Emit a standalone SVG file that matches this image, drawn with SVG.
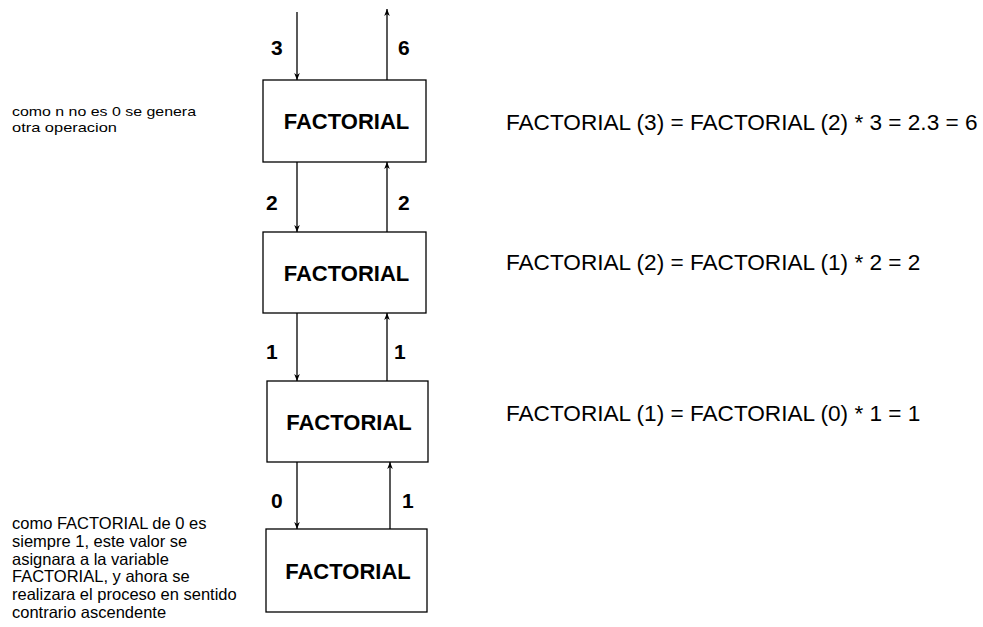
<svg xmlns="http://www.w3.org/2000/svg" width="983" height="627" viewBox="0 0 983 627">
  <style>
    .box { fill: #ffffff; stroke: #000000; stroke-width: 1.3; }
    .title { font-family: "Liberation Sans", Arial, sans-serif; font-weight: bold; font-size: 22px; text-anchor: middle; fill: #000; }
    .num { font-family: "Liberation Sans", Arial, sans-serif; font-weight: bold; font-size: 21px; fill: #000; }
    .eq { font-family: "Liberation Sans", Arial, sans-serif; font-size: 22.6px; fill: #000; }
    .note { font-family: "Liberation Sans", Arial, sans-serif; font-size: 16.5px; fill: #000; }
    .note-small { font-family: "Liberation Sans", Arial, sans-serif; font-size: 13.5px; fill: #000; }
    .wire { stroke: #000; stroke-width: 1.3; fill: none; marker-end: url(#head); }
  </style>
  <defs>
    <marker id="head" viewBox="0 0 10 10" refX="10" refY="5" markerWidth="7" markerHeight="7" markerUnits="userSpaceOnUse" orient="auto">
      <path d="M0,1 L10,5 L0,9 L3,5 Z" fill="#000"/>
    </marker>
  </defs>

  <!-- call chain boxes -->
  <g id="factorial-3">
    <rect class="box" x="263" y="80" width="163" height="82"/>
    <text class="title" x="346.5" y="129">FACTORIAL</text>
  </g>
  <g id="factorial-2">
    <rect class="box" x="263" y="232" width="163" height="81"/>
    <text class="title" x="346.5" y="281">FACTORIAL</text>
  </g>
  <g id="factorial-1">
    <rect class="box" x="267" y="381" width="161" height="81"/>
    <text class="title" x="349" y="430">FACTORIAL</text>
  </g>
  <g id="factorial-0">
    <rect class="box" x="266" y="529" width="161" height="83"/>
    <text class="title" x="348" y="579">FACTORIAL</text>
  </g>

  <!-- calls going down, results coming back up -->
  <g id="connectors">
    <line class="wire" x1="297" y1="12" x2="297" y2="80"/>
    <line class="wire" x1="387" y1="80" x2="387" y2="9"/>
    <line class="wire" x1="297" y1="162" x2="297" y2="232"/>
    <line class="wire" x1="387" y1="232" x2="387" y2="162"/>
    <line class="wire" x1="297" y1="313" x2="297" y2="381"/>
    <line class="wire" x1="387" y1="381" x2="387" y2="313"/>
    <line class="wire" x1="297" y1="462" x2="297" y2="529"/>
    <line class="wire" x1="390" y1="529" x2="390" y2="462"/>

    <text class="num" x="271" y="55">3</text>
    <text class="num" x="398" y="55">6</text>
    <text class="num" x="266" y="210">2</text>
    <text class="num" x="398" y="210">2</text>
    <text class="num" x="266" y="359">1</text>
    <text class="num" x="394" y="359">1</text>
    <text class="num" x="271" y="508">0</text>
    <text class="num" x="402" y="508">1</text>
  </g>

  <!-- equations -->
  <text class="eq" x="506" y="130">FACTORIAL (3) = FACTORIAL (2) * 3 = 2.3 = 6</text>
  <text class="eq" x="506" y="270">FACTORIAL (2) = FACTORIAL (1) * 2 = 2</text>
  <text class="eq" x="506" y="421">FACTORIAL (1) = FACTORIAL (0) * 1 = 1</text>

  <!-- side notes -->
  <text class="note-small">
    <tspan x="12" y="116" textLength="184" lengthAdjust="spacingAndGlyphs">como n no es 0 se genera</tspan>
    <tspan x="12" y="132" textLength="105" lengthAdjust="spacingAndGlyphs">otra operacion</tspan>
  </text>
  <text class="note">
    <tspan x="12" y="529">como FACTORIAL de 0 es</tspan>
    <tspan x="12" y="547">siempre 1, este valor se</tspan>
    <tspan x="12" y="565">asignara a la variable</tspan>
    <tspan x="12" y="582">FACTORIAL, y ahora se</tspan>
    <tspan x="12" y="600">realizara el proceso en sentido</tspan>
    <tspan x="12" y="618">contrario ascendente</tspan>
  </text>
</svg>
